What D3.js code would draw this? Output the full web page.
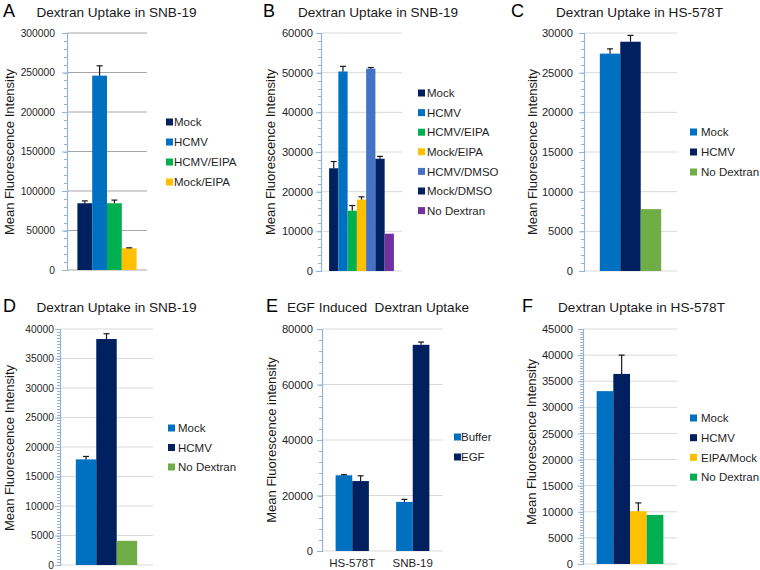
<!DOCTYPE html>
<html>
<head>
<meta charset="utf-8">
<script src="https://cdn.jsdelivr.net/npm/d3@7"></script>
<style>
  html, body { margin: 0; padding: 0; background: #ffffff; }
  svg { display: block; font-family: "Liberation Sans", Arial, sans-serif; }
  .title { white-space: pre; }
</style>
</head>
<body>
<svg id="chart" width="760" height="570"></svg>
<script>
// ---------------- DATA ----------------
// Panel A
const aTitle = "Dextran Uptake in SNB-19";
const aSeries = ["Mock", "HCMV", "HCMV/EIPA", "Mock/EIPA"];
const aValues = [84500, 246000, 84500, 27500];
const aErrors = [3000, 12500, 4000, 600];
const aTicks = [0, 50000, 100000, 150000, 200000, 250000, 300000];

// Panel B
const bTitle = "Dextran Uptake in SNB-19";
const bSeries = ["Mock", "HCMV", "HCMV/EIPA", "Mock/EIPA", "HCMV/DMSO", "Mock/DMSO", "No Dextran"];
const bValues = [25900, 50300, 15200, 18000, 51000, 28300, 9400];
const bErrors = [1700, 1300, 1300, 700, 300, 600, 0];
const bTicks = [0, 10000, 20000, 30000, 40000, 50000, 60000];

// Panel C
const cTitle = "Dextran Uptake in HS-578T";
const cSeries = ["Mock", "HCMV", "No Dextran"];
const cValues = [27400, 28900, 7800];
const cErrors = [600, 800, 0];
const cTicks = [0, 5000, 10000, 15000, 20000, 25000, 30000];

// Panel D
const dTitle = "Dextran Uptake in SNB-19";
const dSeries = ["Mock", "HCMV", "No Dextran"];
const dValues = [17900, 38300, 4100];
const dErrors = [500, 900, 0];
const dTicks = [0, 5000, 10000, 15000, 20000, 25000, 30000, 35000, 40000];

// Panel E
const eTitle = "EGF Induced  Dextran Uptake";
const eCategories = ["HS-578T", "SNB-19"];
const eSeries = ["Buffer", "EGF"];
const eBufferValues = [27300, 17700];
const eBufferErrors = [200, 900];
const eEGFValues = [25200, 74300];
const eEGFErrors = [1900, 1000];
const eTicks = [0, 20000, 40000, 60000, 80000];

// Panel F
const fTitle = "Dextran Uptake in HS-578T";
const fSeries = ["Mock", "HCMV", "EIPA/Mock", "No Dextran"];
const fValues = [33100, 36400, 10100, 9400];
const fErrors = [0, 3600, 1600, 0];
const fTicks = [0, 5000, 10000, 15000, 20000, 25000, 30000, 35000, 40000, 45000];

// ---------------- STYLE / LAYOUT ----------------
const NAVY = "#002060", BLUE = "#0070c0", GREEN = "#00b050", YELLOW = "#ffc000",
      MIDBLUE = "#4472c4", PURPLE = "#7030a0", LGREEN = "#70ad47";

const svg = d3.select("#chart");

function drawPanel(p) {
  const g = svg.append("g");
  const y = d3.scaleLinear().domain([0, p.max]).range([p.bottom, p.top]);

  // gridlines
  g.selectAll("line.grid").data(p.ticks).join("line")
    .attr("x1", p.ax).attr("x2", p.right)
    .attr("y1", d => y(d)).attr("y2", d => y(d))
    .attr("stroke", p.gridColor).attr("stroke-width", 1);

  // minor ticks
  const minor = d3.range(0, p.max + 1e-6, p.minorStep);
  g.selectAll("line.minor").data(minor).join("line")
    .attr("x1", p.ax - 3).attr("x2", p.ax)
    .attr("y1", d => Math.round(y(d)) + 0.5).attr("y2", d => Math.round(y(d)) + 0.5)
    .attr("stroke", "#95b3d7").attr("stroke-width", 1);

  // y axis via d3
  const axis = d3.axisLeft(y).tickValues(p.ticks).tickSize(5).tickPadding(p.tickPad)
    .tickFormat(d3.format("d"));
  const ag = g.append("g").attr("transform", `translate(${p.ax},0)`).call(axis);
  ag.select(".domain").attr("stroke", "#95b3d7").attr("stroke-width", 1.2);
  ag.selectAll(".tick line").attr("stroke", "#95b3d7");
  ag.selectAll(".tick text").attr("fill", "#1f1f1f")
    .style("font-size", p.tickFont + "px").style("font-family", "Liberation Sans, Arial, sans-serif");

  // bars
  const cats = p.categories;
  const xc = d3.scaleBand().domain(cats).range([p.ax, p.right]);
  const inner = d3.scaleBand().domain(p.series)
    .range([0, xc.bandwidth() * p.frac]);
  const off = xc.bandwidth() * (1 - p.frac) / 2;

  const rows = [];
  cats.forEach((c, ci) => {
    p.series.forEach((s, si) => {
      rows.push({ c, s, v: p.values[si][ci], e: p.errors[si][ci], color: p.colors[si] });
    });
  });
  const bx = d => xc(d.c) + off + inner(d.s);
  g.selectAll("rect.bar").data(rows).join("rect")
    .attr("x", bx).attr("width", inner.bandwidth())
    .attr("y", d => y(d.v)).attr("height", d => y(0) - y(d.v))
    .attr("fill", d => d.color);

  // error bars
  const eb = rows.filter(d => d.e > 0);
  g.selectAll("line.err").data(eb).join("line")
    .attr("x1", d => bx(d) + inner.bandwidth() / 2).attr("x2", d => bx(d) + inner.bandwidth() / 2)
    .attr("y1", d => y(d.v)).attr("y2", d => y(d.v + d.e))
    .attr("stroke", "#1a1a1a").attr("stroke-width", 1.2);
  g.selectAll("line.cap").data(eb).join("line")
    .attr("x1", d => bx(d) + inner.bandwidth() / 2 - 3).attr("x2", d => bx(d) + inner.bandwidth() / 2 + 3)
    .attr("y1", d => y(d.v + d.e)).attr("y2", d => y(d.v + d.e))
    .attr("stroke", "#1a1a1a").attr("stroke-width", 1.2);

  // x category labels
  if (p.showCats) {
    g.selectAll("text.cat").data(cats).join("text")
      .attr("x", d => xc(d) + xc.bandwidth() / 2).attr("y", p.catY)
      .attr("text-anchor", "middle").attr("fill", "#1f1f1f")
      .style("font-size", "11.5px").text(d => d);
  }

  // legend
  const lg = g.selectAll("g.leg").data(p.series).join("g")
    .attr("transform", (d, i) => `translate(${p.legX},${p.legY + i * p.legStep})`);
  lg.append("rect").attr("x", 0).attr("y", -3.5).attr("width", 7).attr("height", 7)
    .attr("fill", (d, i) => p.colors[i]);
  lg.append("text").attr("x", p.legTextDx).attr("y", 0).attr("dy", "0.36em")
    .attr("fill", "#1f1f1f").style("font-size", p.legFont + "px").text(d => d);

  // title
  g.append("text").attr("class", "title").attr("x", p.titleX).attr("y", p.titleY).attr("text-anchor", "middle")
    .attr("fill", "#1a1a1a").style("font-size", "13.6px").text(p.title);
  // panel letter
  g.append("text").attr("x", p.letterX).attr("y", p.titleY).attr("fill", "#000")
    .style("font-size", "18px").text(p.letter);
  // y label
  g.append("text").attr("transform", `translate(${p.ylabX},${p.ylabY}) rotate(-90)`)
    .attr("text-anchor", "middle").attr("dy", "0.36em").attr("fill", "#1a1a1a")
    .style("font-size", "13px").text(p.ylabel);
}

const YL = "Mean Fluorescence Intensity";

drawPanel({
  letter: "A", title: aTitle, ylabel: YL, categories: ["all"], series: aSeries,
  values: aValues.map(v => [v]), errors: aErrors.map(v => [v]),
  colors: [NAVY, BLUE, GREEN, YELLOW], ticks: aTicks, max: 300000, minorStep: 10000,
  ax: 67, right: 147, top: 33, bottom: 270, frac: 0.74, tickPad: 7, tickFont: 10.3,
  gridColor: "#a6a6a6", legX: 166, legY: 122, legStep: 20, legTextDx: 8, legFont: 11.5,
  titleX: 116.5, titleY: 17, letterX: 3, ylabX: 9, ylabY: 152
});
drawPanel({
  letter: "B", title: bTitle, ylabel: YL, categories: ["all"], series: bSeries,
  values: bValues.map(v => [v]), errors: bErrors.map(v => [v]),
  colors: [NAVY, BLUE, GREEN, YELLOW, MIDBLUE, NAVY, PURPLE], ticks: bTicks, max: 60000, minorStep: 2000,
  ax: 321, right: 402, top: 33, bottom: 271, frac: 0.8, tickPad: 3, tickFont: 11.2,
  gridColor: "#d9d9d9", legX: 418, legY: 93, legStep: 19.6, legTextDx: 9, legFont: 11.5,
  titleX: 378, titleY: 17, letterX: 263, ylabX: 270, ylabY: 152
});
drawPanel({
  letter: "C", title: cTitle, ylabel: YL, categories: ["all"], series: cSeries,
  values: cValues.map(v => [v]), errors: cErrors.map(v => [v]),
  colors: [BLUE, NAVY, LGREEN], ticks: cTicks, max: 30000, minorStep: 1000,
  ax: 584, right: 677, top: 33, bottom: 271, frac: 0.66, tickPad: 6, tickFont: 11.2,
  gridColor: "#d9d9d9", legX: 690, legY: 132, legStep: 20, legTextDx: 11, legFont: 11.5,
  titleX: 639.5, titleY: 17, letterX: 511, ylabX: 532, ylabY: 152
});
drawPanel({
  letter: "D", title: dTitle, ylabel: YL, categories: ["all"], series: dSeries,
  values: dValues.map(v => [v]), errors: dErrors.map(v => [v]),
  colors: [BLUE, NAVY, LGREEN], ticks: dTicks, max: 40000, minorStep: 500,
  ax: 60, right: 153, top: 329, bottom: 565, frac: 0.66, tickPad: 1, tickFont: 10.3,
  gridColor: "#d9d9d9", legX: 168, legY: 428, legStep: 19.5, legTextDx: 10, legFont: 11.5,
  titleX: 116.5, titleY: 312, letterX: 3, ylabX: 9, ylabY: 448
});
drawPanel({
  letter: "E", title: eTitle, ylabel: "Mean Fluorescence intensity", categories: eCategories, series: eSeries,
  values: [eBufferValues, eEGFValues], errors: [eBufferErrors, eEGFErrors],
  colors: [BLUE, NAVY], ticks: eTicks, max: 80000, minorStep: 4000,
  ax: 322, right: 443, top: 329, bottom: 551, frac: 0.55, tickPad: 4, tickFont: 11.2,
  gridColor: "#d9d9d9", legX: 454, legY: 437, legStep: 20, legTextDx: 7, legFont: 11.5,
  titleX: 378, titleY: 312, letterX: 266, ylabX: 271, ylabY: 440, showCats: true, catY: 567
});
drawPanel({
  letter: "F", title: fTitle, ylabel: YL, categories: ["all"], series: fSeries,
  values: fValues.map(v => [v]), errors: fErrors.map(v => [v]),
  colors: [BLUE, NAVY, YELLOW, GREEN], ticks: fTicks, max: 45000, minorStep: 500,
  ax: 583, right: 677, top: 329, bottom: 564, frac: 0.71, tickPad: 5, tickFont: 11.2,
  gridColor: "#d9d9d9", legX: 690, legY: 418, legStep: 19.7, legTextDx: 11, legFont: 11.5,
  titleX: 641.5, titleY: 312, letterX: 522, ylabX: 531, ylabY: 442
});
</script>
</body>
</html>
